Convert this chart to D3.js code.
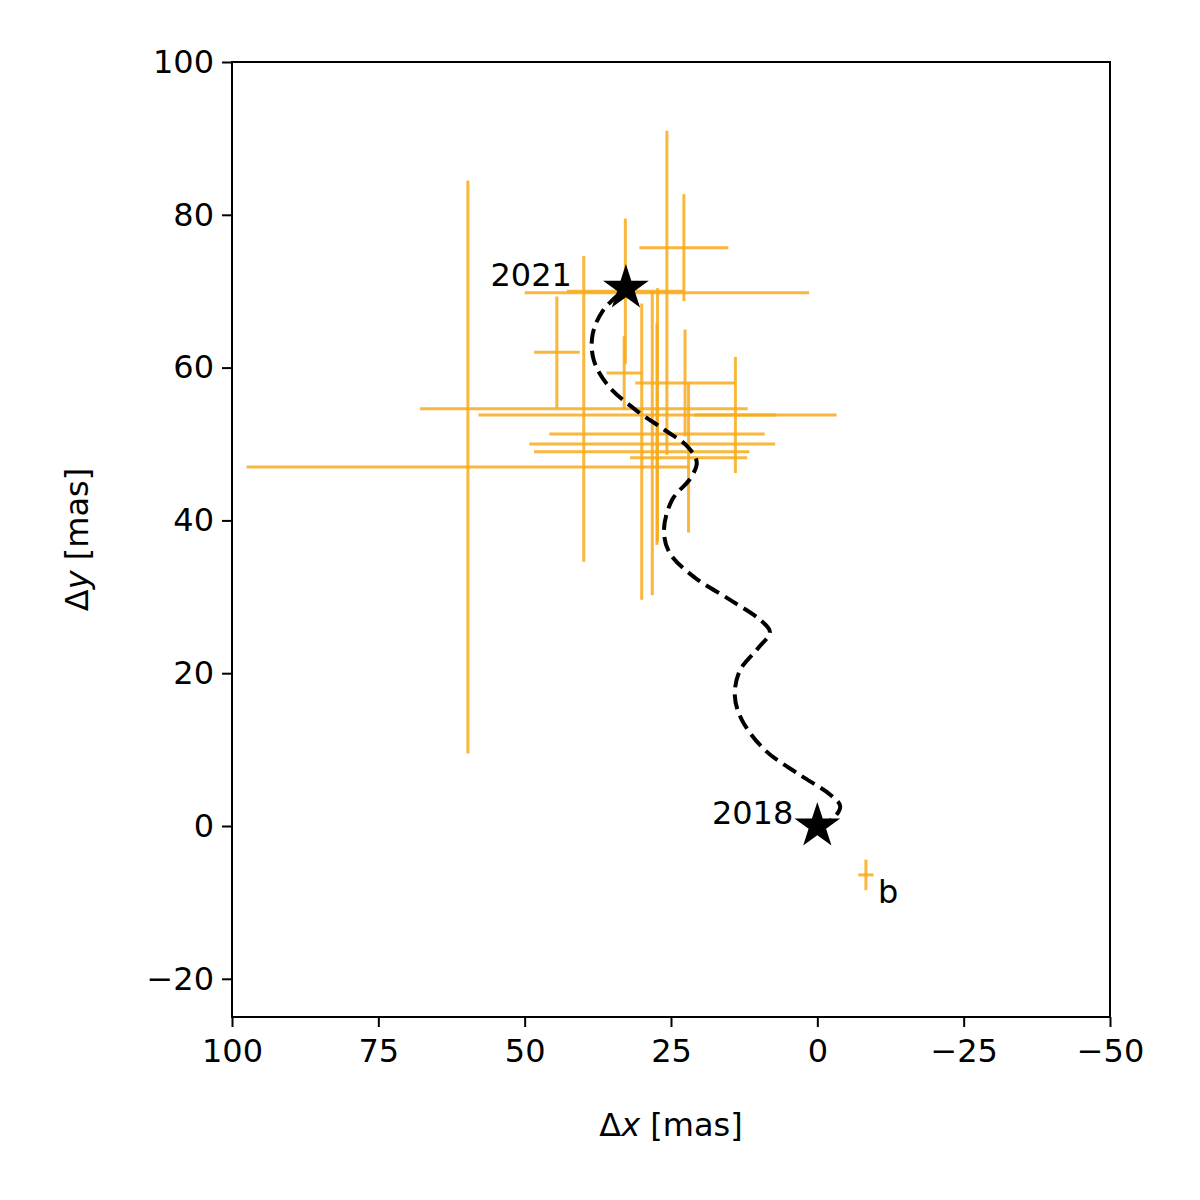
<!DOCTYPE html>
<html><head><meta charset="utf-8">
<script src="https://cdn.jsdelivr.net/npm/d3@7"></script>
<style>body{margin:0;background:#fff}text{font-family:"DejaVu Sans",sans-serif}</style>
</head><body><div id="chart"></div>
<script>
// astrometric measurements: x, y, xerr, yerr (mas)
const obsX    = [59.7, 39.9, 25.7, 22.8, 32.8, 44.5, 33.0, 22.6, 14.0, 27.4, 28.2, 30.0, 22.0, 27.3];
const obsY    = [47.0, 54.6, 69.8, 75.7, 70.0, 62.0, 59.3, 58.0, 53.8, 51.3, 50.0, 49.0, 48.2, 53.8];
const obsXerr = [37.8, 28.0, 24.3,  7.6, 10.0,  3.9,  3.0,  8.5,  7.0, 18.4, 21.0, 18.4, 10.0, 30.6];
const obsYerr = [37.5, 20.0, 21.2,  7.0,  9.5,  7.3,  4.8,  7.0,  7.6, 14.5, 19.8, 19.4,  9.8, 16.6];
// companion b
const bX = [-8.3], bY = [-6.4], bXerr = [1.3], bYerr = [2.0];
// predicted track
const trackX = [-0.1,-2.7,-3.9,-2.2,3.0,8.9,12.9,14.1,13.2,10.1,8.1,9.8,14.9,20.9,25.2,26.2,24.8,21.7,20.6,22.1,26.0,31.1,35.8,38.2,38.4,36.6,32.7];
const trackY = [0,1.0,2.6,4.1,6.7,9.9,13.9,17.1,20.4,23.3,25.4,27.0,29.6,32.5,35.7,38.7,42.7,45.5,47.6,49.6,51.8,54.5,57.7,61.0,64.3,67.5,70.4];
const epochs = ["2018", "2021"];
const epochX = [0, 32.7], epochY = [0, 70.4];
const xTicks = [100, 75, 50, 25, 0, -25, -50];
const yTicks = [-20, 0, 20, 40, 60, 80, 100];

const W = 1200, H = 1200;
const L = 232, R = 1110, T = 62, B = 1017;
const svg = d3.select("#chart").append("svg").attr("width", W).attr("height", H);
const x = d3.scaleLinear().domain([100, -50]).range([L, R]);
const y = d3.scaleLinear().domain([-25, 100]).range([B, T]);
const orange = "#f8ab1c";

const g = svg.append("g");
// error bars
function bars(xs, ys, xe, ye) {
    xs.forEach((v, i) => {
        g.append("line").attr("x1", x(v - xe[i])).attr("x2", x(v + xe[i]))
            .attr("y1", y(ys[i])).attr("y2", y(ys[i]))
            .attr("stroke", orange).attr("stroke-width", 3).attr("opacity", 0.85);
        g.append("line").attr("x1", x(v)).attr("x2", x(v))
            .attr("y1", y(ys[i] - ye[i])).attr("y2", y(ys[i] + ye[i]))
            .attr("stroke", orange).attr("stroke-width", 3).attr("opacity", 0.85);
    });
}
bars(obsX, obsY, obsXerr, obsYerr);
bars(bX, bY, bXerr, bYerr);
g.append("text").attr("x", x(bX[0]) + 12).attr("y", y(bY[0]) + 28)
    .attr("font-size", 32).text("b");

// track
const line = d3.line().x(d => x(d[0])).y(d => y(d[1])).curve(d3.curveCatmullRom);
g.append("path").datum(trackX.map((v, i) => [v, trackY[i]])).attr("d", line)
    .attr("fill", "none").attr("stroke", "#000").attr("stroke-width", 4)
    .attr("stroke-dasharray", "15,7");

// epoch stars
const labelGap = [24, 54];
epochs.forEach((e, i) => {
    g.append("path").attr("d", d3.symbol(d3.symbolStar, 650)())
        .attr("transform", `translate(${x(epochX[i])},${y(epochY[i])})`).attr("fill", "#000");
    g.append("text").attr("x", x(epochX[i]) - labelGap[i]).attr("y", y(epochY[i]) - 2)
        .attr("text-anchor", "end").attr("font-size", 32).text(e);
});

// frame
svg.append("rect").attr("x", L).attr("y", T).attr("width", R - L).attr("height", B - T)
    .attr("fill", "none").attr("stroke", "#000").attr("stroke-width", 2);

const fmt = d => d < 0 ? "\u2212" + Math.abs(d) : String(d);
const xa = svg.append("g").attr("transform", `translate(0,${B})`)
    .call(d3.axisBottom(x).tickValues(xTicks).tickFormat(fmt).tickSize(10).tickPadding(8));
const ya = svg.append("g").attr("transform", `translate(${L},0)`)
    .call(d3.axisLeft(y).tickValues(yTicks).tickFormat(fmt).tickSize(10).tickPadding(8));
[xa, ya].forEach(a => {
    a.select(".domain").remove();
    a.selectAll("line").attr("stroke-width", 2);
    a.selectAll("text").attr("font-size", 32).attr("font-family", "DejaVu Sans").attr("fill", "#000");
});
xa.selectAll("text").attr("dy", "0.85em");

const xl = svg.append("text").attr("x", (L + R) / 2).attr("y", 1136)
    .attr("text-anchor", "middle").attr("font-size", 32);
xl.append("tspan").text("\u0394");
xl.append("tspan").attr("font-style", "italic").text("x");
xl.append("tspan").text(" [mas]");
const yl = svg.append("text").attr("transform", `translate(88,${(T + B) / 2}) rotate(-90)`)
    .attr("text-anchor", "middle").attr("font-size", 32);
yl.append("tspan").text("\u0394");
yl.append("tspan").attr("font-style", "italic").text("y");
yl.append("tspan").text(" [mas]");
</script></body></html>
